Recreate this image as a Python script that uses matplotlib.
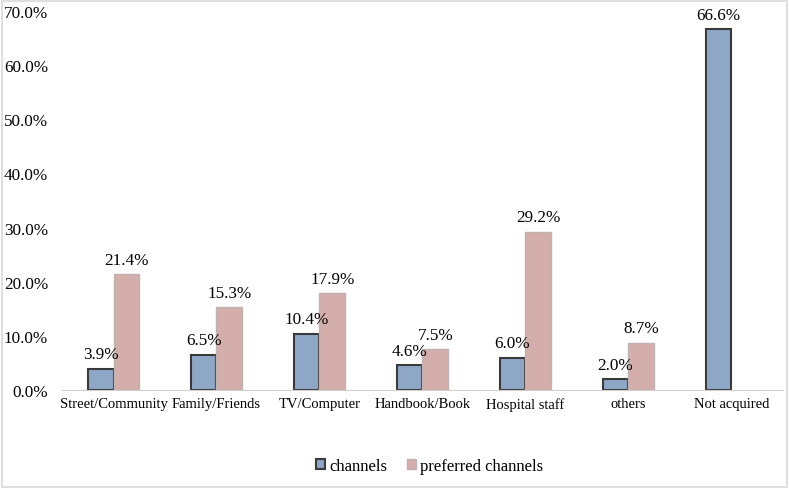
import matplotlib.pyplot as plt
import numpy as np

plt.rcParams['font.family'] = ['Liberation Serif', 'DejaVu Serif']

# data
categories = ['Street/Community', 'Family/Friends', 'TV/Computer', 'Handbook/Book',
              'Hospital staff', 'others', 'Not acquired']
channels = [3.9, 6.5, 10.4, 4.6, 6.0, 2.0, 66.6]
preferred = [21.4, 15.3, 17.9, 7.5, 29.2, 8.7, 0.0]
yticks = [0, 10, 20, 30, 40, 50, 60, 70]

fig = plt.figure(figsize=(7.9, 4.89), dpi=100)
ax = fig.add_axes([0.0785, 0.2004, 0.9125, 0.775])

x = np.arange(len(categories))
w = 0.25
ax.bar(x - w / 2, channels, w, color='#8FA7C7', edgecolor='#3A3A3A',
       linewidth=1.5, label='channels')
pref_vals = [v if v > 0 else np.nan for v in preferred]
ax.bar(x + w / 2, pref_vals, w, color='#D4AEAA', edgecolor='#BFB3B2',
       linewidth=1.0, label='preferred channels')

# value labels
for xi, v in zip(x, channels):
    ax.text(xi - w / 2, v + 1.2, f'{v:.1f}%', ha='center', va='bottom', fontsize=12.3)
for xi, v in zip(x, preferred):
    if v > 0:
        ax.text(xi + w / 2, v + 1.2, f'{v:.1f}%', ha='center', va='bottom', fontsize=12.3)

ax.set_xlim(-0.5, len(categories) - 0.5)
ax.set_ylim(0, 70)
ax.set_yticks(yticks)
ax.set_yticklabels([f'{t:.1f}%' for t in yticks], fontsize=12.3)
ax.set_xticks(x)
ax.set_xticklabels(categories, fontsize=10.5)
ax.tick_params(axis='both', length=0)
ax.tick_params(axis='x', pad=5)
ax.tick_params(axis='y', pad=10)
for s in ['top', 'right', 'left']:
    ax.spines[s].set_visible(False)
ax.spines['bottom'].set_color('#D0D0D0')

ax.legend(loc='center', bbox_to_anchor=(0.51, -0.2), ncol=2, frameon=False,
          fontsize=12, handlelength=0.55, handleheight=0.55, handletextpad=0.25,
          columnspacing=1.2)

# light border around the figure
fig.patches.append(plt.Rectangle((0.002, 0.002), 0.994, 0.994, transform=fig.transFigure,
                                 fill=False, edgecolor='#D9D9D9', linewidth=1.2))

fig.savefig('out.png', dpi=100)
